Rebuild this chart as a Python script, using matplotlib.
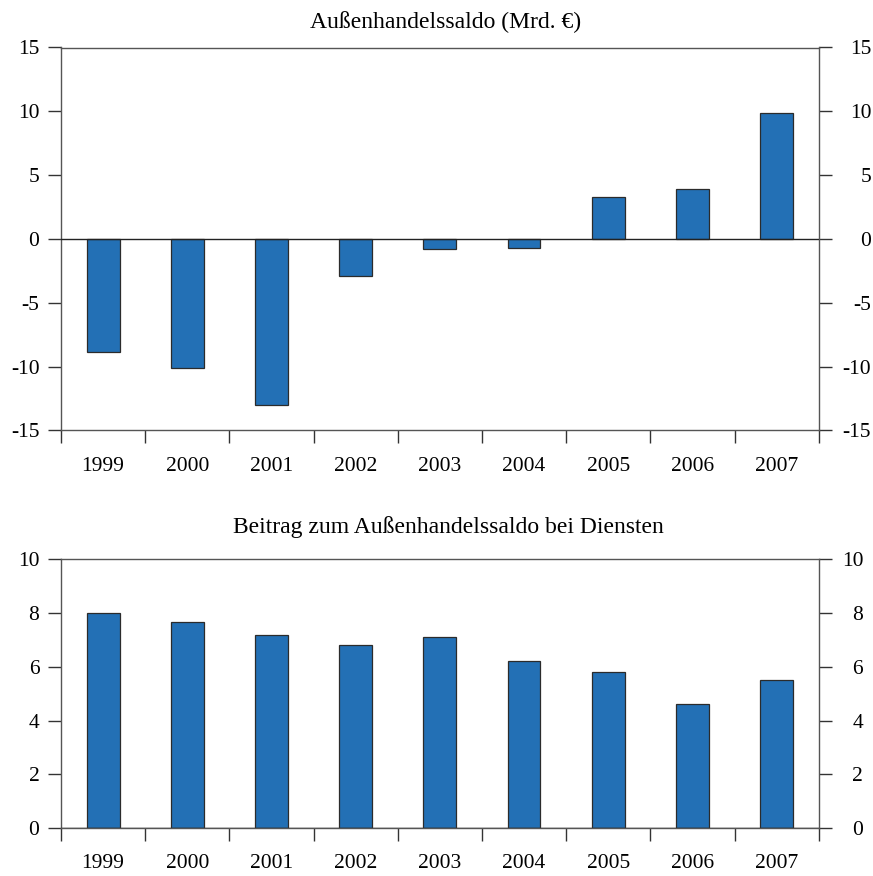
import matplotlib
matplotlib.use("Agg")
import matplotlib.pyplot as plt
import numpy as np
from matplotlib.transforms import ScaledTranslation

years = ["1999", "2000", "2001", "2002", "2003", "2004", "2005", "2006", "2007"]
saldo = [-8.9, -10.1, -13.0, -2.9, -0.8, -0.7, 3.3, 3.9, 9.9]
dienste = [8.0, 7.65, 7.2, 6.8, 7.1, 6.2, 5.8, 4.6, 5.5]

title_top = "Außenhandelssaldo (Mrd. €)"
title_bottom = "Beitrag zum Außenhandelssaldo bei Diensten"
yticks_top = [-15, -10, -5, 0, 5, 10, 15]
yticks_bottom = [0, 2, 4, 6, 8, 10]

plt.rcParams['font.family'] = ['Liberation Serif', 'DejaVu Serif']
FS = 15.5
FS_T = 17
BAR = "#2370b5"
EDGE = "#2b2b2b"
SPINE = "#555555"

fig = plt.figure(figsize=(8.73, 8.76), dpi=100)
W, H = 873, 876

def make_ax(left, top, right, bottom):
    return fig.add_axes([left / W, 1 - bottom / H, (right - left) / W, (bottom - top) / H])

ax1 = make_ax(61, 47.5, 818.7, 430.3)
ax2 = make_ax(61, 559.3, 818.7, 828)

def style(ax, vals, ylim, yt):
    x = np.arange(len(years))
    ax.bar(x, vals, width=0.39, color=BAR, edgecolor=EDGE, linewidth=0.9, zorder=2)
    ax.set_xlim(-0.5, len(years) - 0.5)
    ax.set_ylim(*ylim)
    ax.axhline(0, color="#222222", linewidth=1.0, zorder=3)
    for s in ax.spines.values():
        s.set_color(SPINE)
        s.set_linewidth(1.0)
    ax.set_xticks(np.arange(len(years) + 1) - 0.5)
    ax.set_xticklabels([])
    ax.tick_params(axis='x', which='major', direction='out', length=9.5, width=1.0, color="#333333")
    ax.set_xticks(x, minor=True)
    ax.set_xticklabels(years, minor=True, fontsize=FS)
    ax.tick_params(axis='x', which='minor', length=0, pad=19)
    ax.set_yticks(yt)
    ax.set_yticklabels([str(v) for v in yt], fontsize=FS)
    ax.tick_params(axis='y', which='major', direction='out', length=9.5, width=1.0,
                   color="#333333", left=True, right=True, labelleft=True, labelright=True, pad=6)
    for t in ax.yaxis.get_major_ticks():
        t.label2.set_horizontalalignment('right')
    return ax

style(ax1, saldo, (-15, 15), yticks_top)
style(ax2, dienste, (0, 10), yticks_bottom)

for ax, shift_px in ((ax1, 52.5 - 9.5 / 0.72 - 6 / 0.72), (ax2, 44.5 - 9.5 / 0.72 - 6 / 0.72)):
    for t in ax.yaxis.get_major_ticks():
        off = ScaledTranslation(shift_px / 100, 0, fig.dpi_scale_trans)
        t.label2.set_transform(t.label2.get_transform() + off)

fig.text(446 / W, 1 - 22 / H, title_top, ha='center', va='center', fontsize=FS_T)
fig.text(448 / W, 1 - 527 / H, title_bottom, ha='center', va='center', fontsize=FS_T)

fig.savefig("out.png", dpi=100)
